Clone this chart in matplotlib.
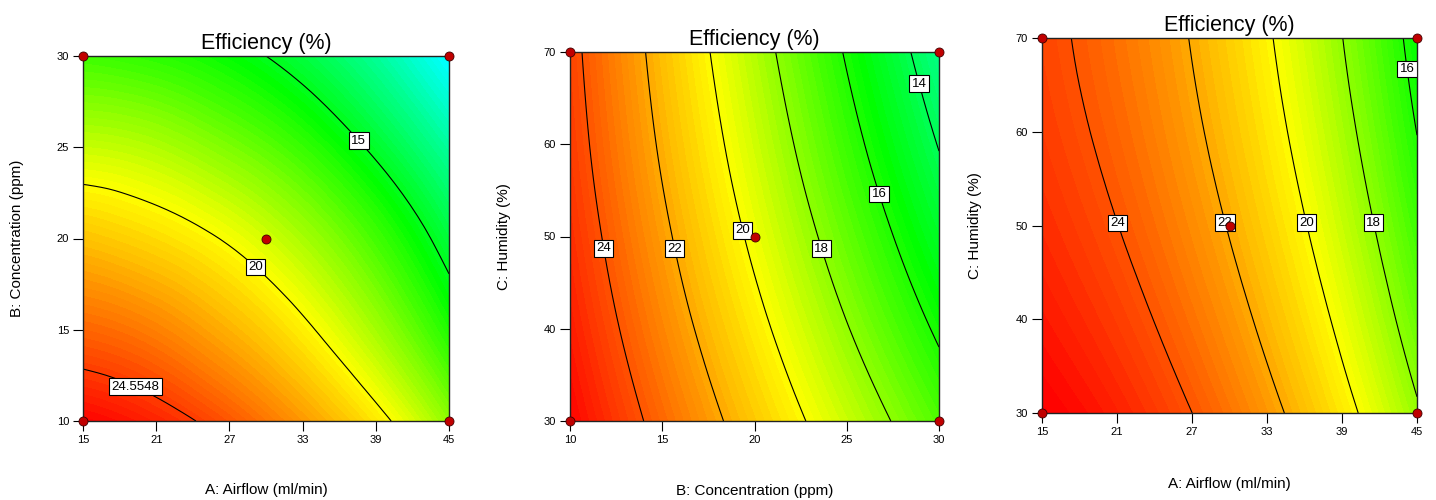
import matplotlib
matplotlib.use('Agg')
import matplotlib.pyplot as plt
import numpy as np
from matplotlib.colors import LinearSegmentedColormap, Normalize
from matplotlib.tri import Triangulation, UniformTriRefiner

plt.rcParams['font.family'] = ['Liberation Sans', 'DejaVu Sans']

# factor settings
airflow = [15, 20, 25, 30, 35, 40, 45]
concentration = [10, 15, 20, 25, 30]
humidity = [30, 40, 50, 60, 70]

# efficiency (%), one row per y value
eff_airflow_conc = [
    [25.9, 25.3, 24.4, 23.2, 21.8, 20.1, 18.0],
    [23.6, 23.1, 22.2, 21.1, 19.7, 18.0, 16.0],
    [21.4, 20.9, 20.2, 19.2, 17.9, 16.3, 14.4],
    [19.0, 18.7, 18.0, 17.1, 15.9, 14.4, 12.7],
    [16.6, 16.3, 15.8, 15.0, 13.9, 12.5, 10.8],
]
eff_conc_hum = [
    [25.88, 23.53, 21.24, 19.03, 16.88],
    [25.34, 22.85, 20.43, 18.07, 15.79],
    [24.91, 22.28, 19.72, 17.23, 14.81],
    [24.59, 21.82, 19.13, 16.50, 13.94],
    [24.38, 21.48, 18.64, 15.88, 13.18],
]
eff_airflow_hum = [
    [26.07, 25.39, 24.45, 23.26, 21.81, 20.11, 18.16],
    [25.45, 24.73, 23.76, 22.53, 21.04, 19.30, 17.30],
    [24.96, 24.20, 23.19, 21.92, 20.40, 18.62, 16.58],
    [24.60, 23.80, 22.75, 21.44, 19.88, 18.06, 15.98],
    [24.37, 23.53, 22.44, 21.09, 19.49, 17.63, 15.52],
]

levels_ab = [15, 20, 24.5548]
levels_bc = [14, 16, 18, 20, 22, 24]
levels_ac = [16, 18, 20, 22, 24]

label_pos_ab = [(37.5, 25.3), (29.1, 18.4), (19.5, 12.2)]
label_pos_bc = [(11.8, 48.7), (15.7, 48.7), (19.4, 50.7), (23.7, 48.7), (26.9, 54.7), (29.2, 66.7)]
label_pos_ac = [(21.1, 50.3), (29.7, 50.3), (36.1, 50.3), (41.5, 50.3), (44.2, 66.7)]

# design points (factorial corners + centre)
pts_ab = ([15, 15, 45, 45, 30], [10, 30, 10, 30, 20])
pts_bc = ([10, 10, 30, 30, 20], [30, 70, 30, 70, 50])
pts_ac = ([15, 15, 45, 45, 30], [30, 70, 30, 70, 50])

cmap = LinearSegmentedColormap.from_list(
    'de', [(0, 'blue'), (0.2308, 'cyan'), (0.4615, 'lime'), (0.6923, 'yellow'), (1, 'red')])
norm = Normalize(6.5, 26)

panels = [
    dict(x=airflow, y=concentration, z=eff_airflow_conc, levels=levels_ab, lab=label_pos_ab,
         pts=pts_ab, xticks=[15, 21, 27, 33, 39, 45], yticks=[10, 15, 20, 25, 30],
         xlabel='A: Airflow (ml/min)', ylabel='B: Concentration (ppm)',
         pos=[83 / 1436, 79 / 500, 366 / 1436, 365 / 500]),
    dict(x=concentration, y=humidity, z=eff_conc_hum, levels=levels_bc, lab=label_pos_bc,
         pts=pts_bc, xticks=[10, 15, 20, 25, 30], yticks=[30, 40, 50, 60, 70],
         xlabel='B: Concentration (ppm)', ylabel='C: Humidity (%)',
         pos=[570 / 1436, 79 / 500, 369 / 1436, 369 / 500]),
    dict(x=airflow, y=humidity, z=eff_airflow_hum, levels=levels_ac, lab=label_pos_ac,
         pts=pts_ac, xticks=[15, 21, 27, 33, 39, 45], yticks=[30, 40, 50, 60, 70],
         xlabel='A: Airflow (ml/min)', ylabel='C: Humidity (%)',
         pos=[1042 / 1436, 87 / 500, 375 / 1436, 375 / 500]),
]

fig = plt.figure(figsize=(14.36, 5.0), dpi=100)

for p in panels:
    ax = fig.add_axes(p['pos'])
    X, Y = np.meshgrid(p['x'], p['y'])
    Z = np.array(p['z'])
    # smooth the coarse grid with matplotlib's own cubic refiner
    tri = Triangulation(X.ravel(), Y.ravel())
    tri_f, z_f = UniformTriRefiner(tri).refine_field(Z.ravel(), subdiv=3)
    ax.tricontourf(tri_f, z_f, levels=np.linspace(6, 27, 106), cmap=cmap, norm=norm)
    cs = ax.tricontour(tri_f, z_f, levels=p['levels'], colors='black', linewidths=0.8)
    fmt = {lv: ('%g' % lv) for lv in p['levels']}
    labels = ax.clabel(cs, fmt=fmt, manual=p['lab'], inline=False, fontsize=9.5)
    for t in labels:
        t.set_rotation(0)
        t.set_bbox(dict(boxstyle='square,pad=0.18', fc='white', ec='black', lw=0.8))
    ax.plot(p['pts'][0], p['pts'][1], 'o', color='#c00000', mec='#400000', mew=0.6,
            ms=6.5, clip_on=False, zorder=5)

    ax.set_xlim(min(p['x']), max(p['x']))
    ax.set_ylim(min(p['y']), max(p['y']))
    ax.set_xticks(p['xticks'])
    ax.set_yticks(p['yticks'])
    ax.tick_params(direction='out', length=7, width=0.8, labelsize=8, pad=3)
    for s in ax.spines.values():
        s.set_color('#222222')
        s.set_linewidth(1.0)
    ax.set_title('Efficiency (%)', fontsize=15.5, pad=5)
    ax.set_xlabel(p['xlabel'], fontsize=11)
    ax.set_ylabel(p['ylabel'], fontsize=11)
    ax.xaxis.set_label_coords(0.5, -0.17)
    ax.yaxis.set_label_coords(-0.16, 0.5)

fig.savefig('out.png', dpi=100)
